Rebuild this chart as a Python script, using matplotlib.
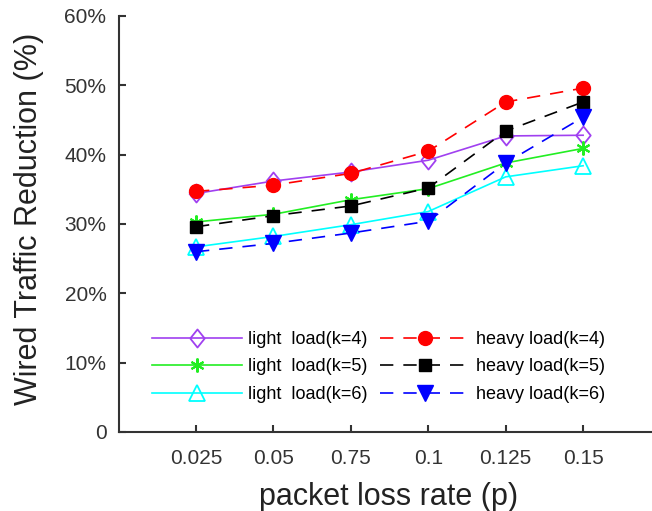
import matplotlib
matplotlib.use('Agg')
import matplotlib.pyplot as plt
import matplotlib.ticker as ticker
import numpy as np

plt.rcParams['font.family'] = ['Liberation Sans', 'DejaVu Sans']

loss_rates = ['0.025', '0.05', '0.75', '0.1', '0.125', '0.15']

light_k4 = [34.4, 36.2, 37.5, 39.2, 42.7, 42.8]
light_k5 = [30.3, 31.4, 33.5, 35.1, 38.8, 40.9]
light_k6 = [26.7, 28.2, 29.9, 31.8, 36.8, 38.4]
heavy_k4 = [34.7, 35.6, 37.3, 40.5, 47.6, 49.6]
heavy_k5 = [29.6, 31.2, 32.6, 35.2, 43.4, 47.6]
heavy_k6 = [26.0, 27.2, 28.7, 30.4, 38.8, 45.4]

x = np.arange(1, len(loss_rates) + 1)

fig = plt.figure(figsize=(6.52, 5.11), dpi=100)
ax = fig.add_axes([0.1825, 0.1546, 0.8175, 0.8141])

dash = (0, (8, 6))
lw = 1.2
asterisk = (6, 2, 0)
diamond = [(-0.8, 0), (0, 1), (0.8, 0), (0, -1), (-0.8, 0)]

# light load: solid lines, open markers
ax.plot(x, light_k4, '-', color='#a040f0', lw=lw, marker=diamond, ms=13,
        mfc='none', mec='#a040f0', mew=1.3, label='light  load(k=4)')
ax.plot(x, heavy_k4, color='#ff0000', lw=lw, linestyle=dash, marker='o',
        ms=10, mfc='#ff0000', mec='#ff0000', label='heavy load(k=4)')
ax.plot(x, light_k5, '-', color='#22ee22', lw=lw, marker=asterisk, ms=10,
        mec='#22ee22', mew=1.5, label='light  load(k=5)')
ax.plot(x, heavy_k5, color='#000000', lw=lw, linestyle=dash, marker='s',
        ms=9, mfc='#000000', mec='#000000', label='heavy load(k=5)')
ax.plot(x, light_k6, '-', color='#00ffff', lw=lw, marker='^', ms=11,
        mfc='none', mec='#00ffff', mew=1.3, label='light  load(k=6)')
ax.plot(x, heavy_k6, color='#0000ff', lw=lw, linestyle=dash, marker='v',
        ms=11, mfc='#0000ff', mec='#0000ff', label='heavy load(k=6)')

ax.set_xlim(0.005, 6.89)
ax.set_ylim(0, 60)
ax.set_xticks(x)
ax.set_xticklabels(loss_rates)
ax.set_yticks(np.arange(0, 61, 10))
ax.yaxis.set_major_formatter(ticker.FuncFormatter(
    lambda v, pos: '0' if v == 0 else '%d%%' % v))

for side in ['top', 'right']:
    ax.spines[side].set_visible(False)
for side in ['left', 'bottom']:
    ax.spines[side].set_linewidth(1.5)
    ax.spines[side].set_color('#333333')

ax.tick_params(axis='both', direction='in', length=5, width=1.5,
               color='#333333', labelsize=15, labelcolor='#333333')
ax.tick_params(axis='x', pad=12)
ax.tick_params(axis='y', pad=9)

ax.set_xlabel('packet loss rate (p)', fontsize=22, color='#222222')
ax.set_ylabel('Wired Traffic Reduction (%)', fontsize=22, color='#222222')
ax.xaxis.set_label_coords(0.505, -0.12)
ax.yaxis.set_label_coords(-0.14, 0.512)

# legend order: column 1 light, column 2 heavy
h, l = ax.get_legend_handles_labels()
order = [0, 2, 4, 1, 3, 5]
ax.legend([h[i] for i in order], [l[i] for i in order], ncol=2,
          frameon=False, fontsize=13, loc='upper left',
          bbox_to_anchor=(0.062, 0.243), borderaxespad=0, borderpad=0,
          handlelength=5.0, handletextpad=0.33, columnspacing=0.66,
          labelspacing=0.58, numpoints=1)

fig.savefig('out.png', dpi=100)
